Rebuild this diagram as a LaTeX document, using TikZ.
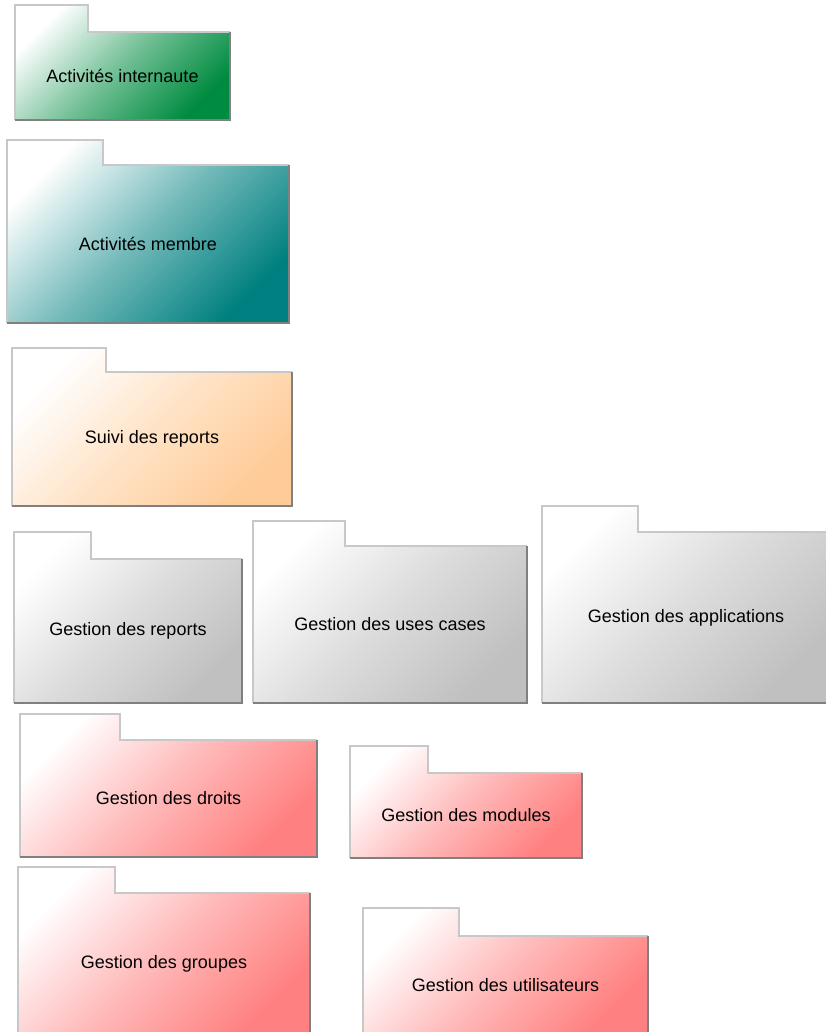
\documentclass[tikz,border=0pt]{standalone}
\usepackage{fontspec}
\setmainfont{Liberation Sans}
\definecolor{pkggreen}{RGB}{0,140,64}
\definecolor{pkgteal}{RGB}{0,128,128}
\definecolor{pkgpeach}{RGB}{255,204,153}
\definecolor{pkggray}{RGB}{192,192,192}
\definecolor{pkgred}{RGB}{255,128,128}
\definecolor{edgelight}{RGB}{200,200,200}
\definecolor{edgedark}{RGB}{128,128,128}
\tikzset{
  lightedge/.style={draw=edgelight, line width=2.5pt, line join=miter},
  darkedge/.style={draw=edgedark, line width=2.5pt, line join=miter},
  pkglabel/.style={font=\fontsize{18}{21}\selectfont, text=black, inner sep=0pt}
}
% UML package: #1 node name, #2 left x, #3 tab top y, #4 tab right x,
% #5 body top y, #6 right x, #7 bottom y, #8 fill colour, #9 label
\newcommand\umlpkg[9]{%
  \shade[top color=white, bottom color=#8, middle color=#8!55!white, shading angle=45]
    (#2,#3) -- (#4,#3) -- (#4,#5) -- (#6,#5) -- (#6,#7) -- (#2,#7) -- cycle;
  \draw[lightedge] (#2,#7) -- (#2,#3) -- (#4,#3) -- (#4,#5) -- (#6,#5);
  \draw[darkedge] (#6,#5) -- (#6,#7) -- (#2,#7);
  \node[pkglabel] (#1) at ({(#2+#6)/2},{(#5+#7)/2}) {#9};
}
\begin{document}
\begin{tikzpicture}[x=1pt, y=-1pt]
  \useasboundingbox (0,0) rectangle (825,1032);
  \umlpkg{internaute}{15}{5}{88}{32}{230}{120}{pkggreen}{Activités internaute}
  \umlpkg{membre}{7}{140}{103}{165}{289}{323}{pkgteal}{Activités membre}
  \umlpkg{suivi}{12}{348}{106}{372}{292}{506}{pkgpeach}{Suivi des reports}
  \umlpkg{greports}{14}{532}{91}{559}{242}{703}{pkggray}{Gestion des reports}
  \umlpkg{usecases}{253}{521}{345}{546}{527}{703}{pkggray}{Gestion des uses cases}
  \umlpkg{applis}{542}{506}{638}{532}{830}{703}{pkggray}{Gestion des applications}
  \umlpkg{droits}{20}{714}{120}{740}{317}{857}{pkgred}{Gestion des droits}
  \umlpkg{modules}{350}{746}{428}{773}{582}{858}{pkgred}{Gestion des modules}
  \umlpkg{groupes}{18}{867}{115}{893}{310}{1035}{pkgred}{Gestion des groupes}
  \umlpkg{utilisateurs}{363}{908}{459}{936}{648}{1035}{pkgred}{Gestion des utilisateurs}
\end{tikzpicture}
\end{document}
